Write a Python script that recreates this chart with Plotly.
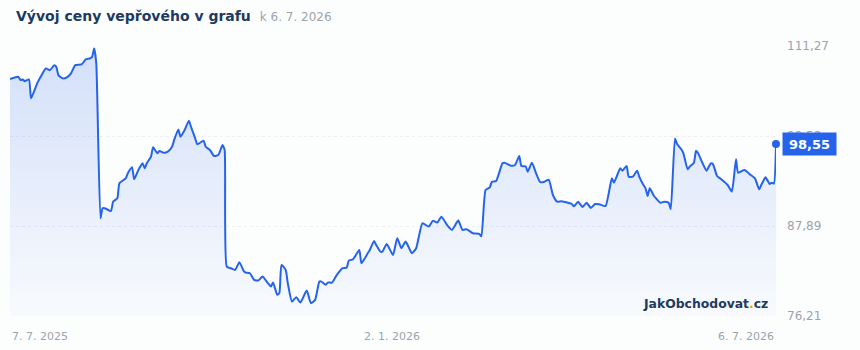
import plotly.graph_objects as go

dates = [
    "2025-07-07","2025-07-11","2025-07-12","2025-07-13","2025-07-14","2025-07-16","2025-07-17","2025-07-19","2025-07-20","2025-07-22",
    "2025-07-24","2025-07-26","2025-07-28","2025-07-29","2025-07-30","2025-08-01","2025-08-03","2025-08-05","2025-08-07","2025-08-10",
    "2025-08-12","2025-08-14","2025-08-15","2025-08-16","2025-08-17","2025-08-19","2025-08-20","2025-08-21","2025-08-24","2025-08-25",
    "2025-08-27","2025-08-28","2025-08-31","2025-09-01","2025-09-03","2025-09-04","2025-09-06","2025-09-08","2025-09-09","2025-09-10",
    "2025-09-12","2025-09-13","2025-09-15","2025-09-16","2025-09-18","2025-09-20","2025-09-22","2025-09-23","2025-09-25","2025-09-26",
    "2025-09-28","2025-09-30","2025-10-01","2025-10-03","2025-10-04","2025-10-07","2025-10-08","2025-10-10","2025-10-12","2025-10-14",
    "2025-10-16","2025-10-17","2025-10-18","2025-10-20","2025-10-22","2025-10-24","2025-10-26","2025-10-27","2025-10-29","2025-10-31",
    "2025-11-02","2025-11-04","2025-11-06","2025-11-08","2025-11-09","2025-11-11","2025-11-12","2025-11-13","2025-11-15","2025-11-16",
    "2025-11-18","2025-11-20","2025-11-22","2025-11-25","2025-11-27","2025-11-29","2025-12-01","2025-12-02","2025-12-04","2025-12-05",
    "2025-12-07","2025-12-09","2025-12-12","2025-12-14","2025-12-15","2025-12-17","2025-12-20","2025-12-21","2025-12-24","2025-12-25",
    "2025-12-27","2025-12-28","2025-12-30","2025-12-31","2026-01-02","2026-01-05","2026-01-07","2026-01-09","2026-01-11","2026-01-14",
    "2026-01-16","2026-01-19","2026-01-22","2026-01-24","2026-01-26","2026-01-28","2026-01-31","2026-02-02","2026-02-05","2026-02-07",
    "2026-02-09","2026-02-12","2026-02-15","2026-02-16","2026-02-18","2026-02-20","2026-02-21","2026-02-23","2026-02-26","2026-02-27",
    "2026-03-02","2026-03-04","2026-03-06","2026-03-07","2026-03-09","2026-03-10","2026-03-12","2026-03-14","2026-03-16","2026-03-18",
    "2026-03-20","2026-03-22","2026-03-24","2026-03-26","2026-03-29","2026-03-31","2026-04-01","2026-04-03","2026-04-05","2026-04-07",
    "2026-04-09","2026-04-11","2026-04-13","2026-04-16","2026-04-19","2026-04-20","2026-04-23","2026-04-24","2026-04-26","2026-04-27",
    "2026-04-29","2026-05-01","2026-05-02","2026-05-04","2026-05-05","2026-05-06","2026-05-07","2026-05-09","2026-05-10","2026-05-12",
    "2026-05-14","2026-05-16","2026-05-17","2026-05-19","2026-05-20","2026-05-22","2026-05-23","2026-05-25","2026-05-26","2026-05-28",
    "2026-05-29","2026-05-30","2026-06-01","2026-06-03","2026-06-05","2026-06-06","2026-06-08","2026-06-10","2026-06-13","2026-06-15",
    "2026-06-17","2026-06-18","2026-06-21","2026-06-24","2026-06-26","2026-06-28","2026-06-29","2026-07-01","2026-07-03","2026-07-04",
    "2026-07-05","2026-07-06",
]

prices = [
    106.98,107.28,106.86,106.95,106.72,106.95,104.48,105.78,106.50,107.50,
    108.37,108.15,108.80,108.58,107.50,107.08,107.21,107.73,108.80,108.89,
    109.54,109.67,109.88,110.97,109.02,88.90,90.20,90.20,89.84,91.05,
    91.49,93.44,94.09,94.74,95.52,93.96,95.17,96.04,95.39,96.04,
    96.90,98.12,97.34,97.64,97.42,97.55,98.19,99.06,100.45,99.49,
    100.36,101.57,100.79,99.28,98.51,98.97,98.19,97.77,96.99,97.12,
    98.41,97.77,82.61,82.40,82.18,83.18,82.05,81.83,81.75,80.89,
    80.80,81.31,80.66,80.02,80.54,78.94,79.16,82.83,82.18,80.46,
    78.07,78.64,77.94,79.50,77.86,78.29,80.66,80.66,80.24,80.54,
    80.54,81.40,82.40,82.48,83.39,83.57,84.78,83.05,84.35,84.78,
    85.95,85.43,84.56,84.56,85.56,84.13,86.30,85.00,85.86,84.35,
    85.00,88.25,87.81,88.59,88.33,89.10,87.90,87.38,88.59,87.38,
    87.47,86.95,86.86,86.56,92.57,92.92,93.65,93.74,96.04,96.12,
    95.73,95.82,96.99,95.69,95.65,94.95,96.12,94.74,93.58,93.65,
    93.91,91.92,91.05,91.10,90.92,90.75,90.45,91.05,90.36,90.92,
    90.23,90.75,90.71,90.49,94.09,93.52,95.39,95.08,95.69,94.30,
    94.30,95.08,94.30,93.22,92.79,91.79,92.79,91.79,91.49,90.92,
    91.05,90.92,90.07,99.28,98.54,97.86,97.34,95.26,95.60,96.12,
    97.67,97.34,96.12,95.08,96.04,95.95,94.39,93.96,93.22,92.35,
    96.56,94.82,95.17,94.52,94.09,92.66,93.22,94.22,93.35,93.52,
    93.40,98.55,
]

y_ticks = [76.21, 87.89, 99.58, 111.27]
y_tick_labels = ["76,21", "87,89", "99,58", "111,27"]
x_label_dates = ["2025-07-07", "2026-01-02", "2026-07-06"]
x_label_texts = ["7. 7. 2025", "2. 1. 2026", "6. 7. 2026"]
x_label_anchors = ["left", "center", "right"]

title_text = "Vývoj ceny vepřového v grafu"
subtitle_text = "k 6. 7. 2026"

BLUE = "#2563eb"
GREY = "#9ca3af"
NAVY = "#1f3a60"
FONT = "DejaVu Sans"

fig = go.Figure()
fig.add_trace(go.Scatter(
    x=dates, y=prices, mode="lines",
    line=dict(color=BLUE, width=2, shape="spline", smoothing=0.5),
    fill="tozeroy",
    fillgradient=dict(type="vertical",
                      colorscale=[[0, "rgba(37,99,235,0.02)"], [1, "rgba(37,99,235,0.19)"]],
                      start=y_ticks[0], stop=y_ticks[-1]),
    hoverinfo="skip", showlegend=False,
))
fig.add_trace(go.Scatter(
    x=[dates[-1]], y=[prices[-1]], mode="markers",
    marker=dict(color=BLUE, size=8), cliponaxis=False,
    hoverinfo="skip", showlegend=False,
))

annotations = []
for d, t, a in zip(x_label_dates, x_label_texts, x_label_anchors):
    annotations.append(dict(x=d, xref="x", y=0, yref="paper", yshift=-20,
                            xshift=(5 if a == "center" else 0),
                            text=t, showarrow=False, xanchor=a, yanchor="middle",
                            font=dict(family=FONT, size=11, color=GREY)))
annotations.append(dict(
    x=1, xref="paper", xanchor="left", xshift=6,
    y=prices[-1], yref="y", yanchor="middle",
    text="<b>" + f"{prices[-1]:.2f}".replace(".", ",") + "</b>",
    showarrow=False, bgcolor=BLUE, width=47, height=16, borderpad=3,
    font=dict(family=FONT, size=13, color="white"),
))
annotations.append(dict(
    x=0, xref="paper", xanchor="left", xshift=4,
    y=1, yref="paper", yanchor="middle", yshift=30,
    text=f"<b>{title_text}</b>  <span style='color:{GREY};font-size:12px'>{subtitle_text}</span>",
    showarrow=False, font=dict(family=FONT, size=14, color=NAVY),
))
annotations.append(dict(
    x=1, xref="paper", xanchor="right", xshift=-6,
    y=0, yref="paper", yanchor="middle", yshift=13,
    text="<b>JakObchodovat<span style='color:#f59e0b'>.</span>cz</b>",
    showarrow=False, font=dict(family=FONT, size=12.4, color=NAVY),
))

fig.update_layout(
    width=860, height=350,
    margin=dict(l=10, r=84, t=46, b=34),
    paper_bgcolor="#fcfdfd", plot_bgcolor="#fcfdfd",
    xaxis=dict(range=[dates[0], dates[-1]], showgrid=False, showticklabels=False,
               zeroline=False, showline=False, fixedrange=True),
    yaxis=dict(range=[y_ticks[0] - 0.02, y_ticks[-1] + 0.02], side="right",
               tickvals=y_ticks, ticktext=y_tick_labels,
               showgrid=True, gridcolor="#eceef5", griddash="dot", gridwidth=1,
               zeroline=False, showline=False, ticks="", ticklabelstandoff=10,
               tickfont=dict(family=FONT, size=12, color=GREY)),
    annotations=annotations,
    font=dict(family=FONT),
)

fig.write_html("out.html")
